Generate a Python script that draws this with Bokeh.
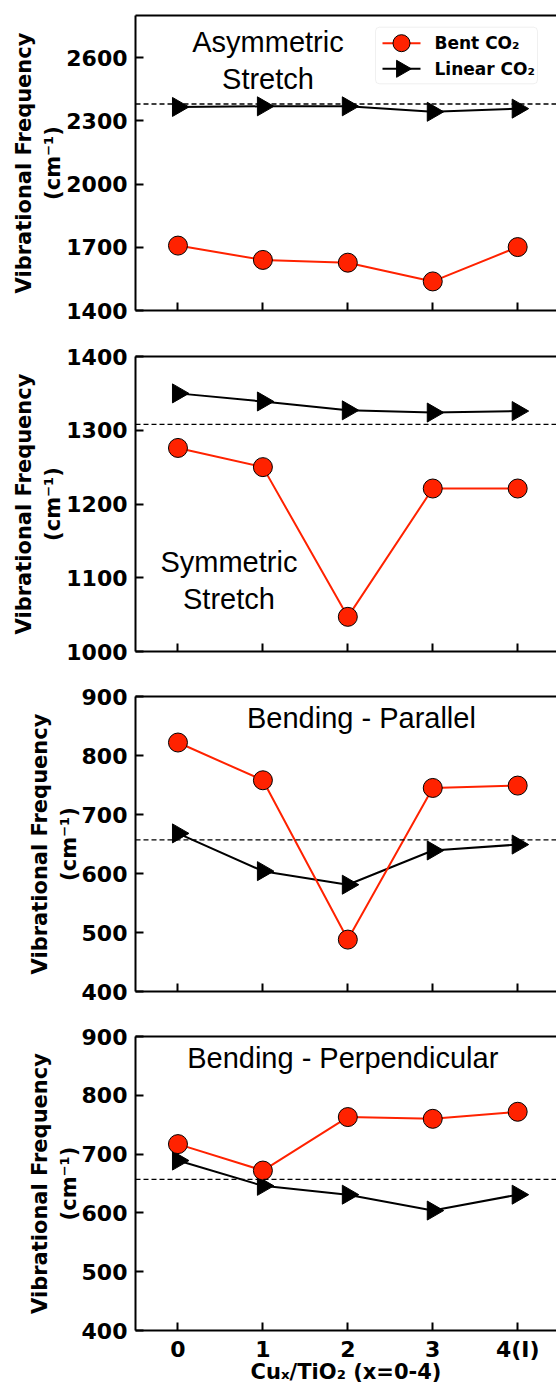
import math

from bokeh.core.properties import value
from bokeh.embed import file_html
from bokeh.layouts import column
from bokeh.models import BoxAnnotation, FixedTicker, LinearAxis, Range1d, Span
from bokeh.plotting import figure
from bokeh.resources import INLINE

# ---- data -------------------------------------------------------------
x_labels = ["0", "1", "2", "3", "4(I)"]

asym_bent = [1708, 1640, 1627, 1538, 1701]
asym_linear = [2366, 2369, 2369, 2343, 2358]

sym_bent = [1276, 1250, 1047, 1221, 1221]
sym_linear = [1350, 1339, 1327, 1324, 1326]

par_bent = [822, 758, 488, 745, 749]
par_linear = [668, 604, 581, 639, 649]

perp_bent = [717, 672, 763, 760, 772]
perp_linear = [689, 646, 631, 604, 631]

# gas-phase CO2 reference frequency for each mode (dashed lines)
gas_ref = [2380, 1308, 657, 657]

y_ranges = [(1400, 2800), (1000, 1400), (400, 900), (400, 900)]
y_ticks = [
    [1400, 1700, 2000, 2300, 2600],
    [1000, 1100, 1200, 1300, 1400],
    [400, 500, 600, 700, 800, 900],
    [400, 500, 600, 700, 800, 900],
]
mode_names = ["Asymmetric\nStretch", "Symmetric\nStretch",
              "Bending - Parallel", "Bending - Perpendicular"]
mode_name_pos = [(1.06, 2586), (0.6, 1096), (2.16, 864), (1.94, 864)]

legend_labels = ["Bent CO₂", "Linear CO₂"]

bent_series = [asym_bent, sym_bent, par_bent, perp_bent]
linear_series = [asym_linear, sym_linear, par_linear, perp_linear]

# ---- styling ----------------------------------------------------------
RED = "#ff2200"
TICK_FONT = "DejaVu Sans"
NOTE_FONT = "Liberation Sans"
X_RANGE = (-0.5, 4.457)
FRAME_W, FRAME_H = 421, 295

# figure heights / borders so the four frames stack like a shared-x column
heights = [340, 340, 340, 366]
tops = [15, 16, 16, 16]
bottoms = [30, 29, 29, 55]


def px_x(dx):
    """Horizontal pixel offset from the frame's left edge -> data x."""
    return X_RANGE[0] + dx / FRAME_W * (X_RANGE[1] - X_RANGE[0])


def px_y(dy, yr):
    """Vertical pixel offset from the frame's top edge -> data y."""
    return yr[1] - dy / FRAME_H * (yr[1] - yr[0])


def style_axis(ax):
    ax.axis_line_width = 2
    ax.axis_line_color = "black"
    ax.major_tick_in = 8
    ax.major_tick_out = 0
    ax.major_tick_line_width = 2
    ax.major_tick_line_color = "black"
    ax.minor_tick_line_color = None
    ax.major_label_text_font = TICK_FONT
    ax.major_label_text_font_style = "bold"
    ax.major_label_text_font_size = "22px"
    ax.major_label_text_color = "black"
    ax.axis_label_text_font = TICK_FONT
    ax.axis_label_text_font_style = "bold"
    ax.axis_label_text_font_size = "21px"
    ax.axis_label_text_color = "black"


def draw_legend(p, yr):
    # frame-pixel layout of the key box (upper right of the first panel)
    box = BoxAnnotation(left=px_x(240), right=px_x(402),
                        top=px_y(11.7, yr), bottom=px_y(68.3, yr),
                        fill_color="white", fill_alpha=0.8,
                        line_color="#cccccc", line_width=1, border_radius=4,
                        level="underlay")
    p.add_layout(box)
    rows = [px_y(27.7, yr), px_y(53.3, yr)]
    x0, x1, xm, xt = px_x(247), px_x(285), px_x(266), px_x(299)
    colors = [RED, "black"]
    p.segment(x0=[x0, x0], y0=rows, x1=[x1, x1], y1=rows,
              line_color=colors, line_width=2)
    p.scatter(x=[xm], y=[rows[0]], marker="circle", size=17,
              fill_color=RED, line_color="black", line_width=1)
    p.scatter(x=[xm], y=[rows[1]], marker="triangle", angle=-math.pi / 2,
              size=17, fill_color="black", line_color="black")
    p.text(x=[xt, xt], y=rows, text=legend_labels, text_align="left",
           text_baseline="middle", text_font=value(TICK_FONT),
           text_font_style="bold", text_font_size="17px", text_color="black")


def make_panel(i):
    last = i == 3
    p = figure(
        width=556, height=heights[i],
        x_range=Range1d(*X_RANGE), y_range=Range1d(*y_ranges[i]),
        output_backend="svg", toolbar_location=None,
        min_border_left=135, min_border_right=0,
        min_border_top=tops[i], min_border_bottom=bottoms[i],
    )
    p.outline_line_color = None
    p.xgrid.visible = False
    p.ygrid.visible = False
    p.background_fill_color = "white"
    p.border_fill_color = "white"

    xs = list(range(len(x_labels)))

    # x axis
    xa = p.xaxis[0]
    style_axis(xa)
    xa.ticker = FixedTicker(ticks=xs)
    xa.major_label_overrides = {k: lbl for k, lbl in zip(xs, x_labels)}
    if last:
        xa.major_label_standoff = 6
        xa.axis_label = "Cuₓ/TiO₂ (x=0-4)"
        xa.axis_label_standoff = -5
    else:
        # shared x: tick marks only on the upper panels
        xa.major_label_text_color = None
        xa.major_label_standoff = 0

    # y axis
    ya = p.yaxis[0]
    style_axis(ya)
    ya.ticker = FixedTicker(ticks=y_ticks[i])
    ya.major_label_standoff = 8
    ya.axis_label = "Vibrational Frequency\n(cm⁻¹)"
    ya.axis_label_standoff = -2

    # top spine
    top = LinearAxis(ticker=FixedTicker(ticks=[]), axis_line_width=2,
                     axis_line_color="black", major_tick_in=0, major_tick_out=0,
                     minor_tick_line_color=None, major_label_standoff=0)
    p.add_layout(top, "above")

    # gas-phase reference
    p.add_layout(Span(location=gas_ref[i], dimension="width", line_color="black",
                      line_width=1.3, line_dash="5 3"))

    p.line(xs, linear_series[i], line_color="black", line_width=2)
    p.scatter(xs, linear_series[i], marker="triangle", angle=-math.pi / 2,
              size=19, fill_color="black", line_color="black")
    p.line(xs, bent_series[i], line_color=RED, line_width=2)
    p.scatter(xs, bent_series[i], marker="circle", size=19,
              fill_color=RED, line_color="black", line_width=1)

    tx, ty = mode_name_pos[i]
    p.text(x=[tx], y=[ty], text=[mode_names[i]], text_align="center",
           text_baseline="middle", text_font=value(NOTE_FONT),
           text_font_size="29px", text_color="black", text_line_height=1.17)

    if i == 0:
        draw_legend(p, y_ranges[i])
    return p


panels = [make_panel(i) for i in range(4)]
layout = column(*panels, spacing=0)

open("out.html", "w").write(file_html(layout, INLINE))
